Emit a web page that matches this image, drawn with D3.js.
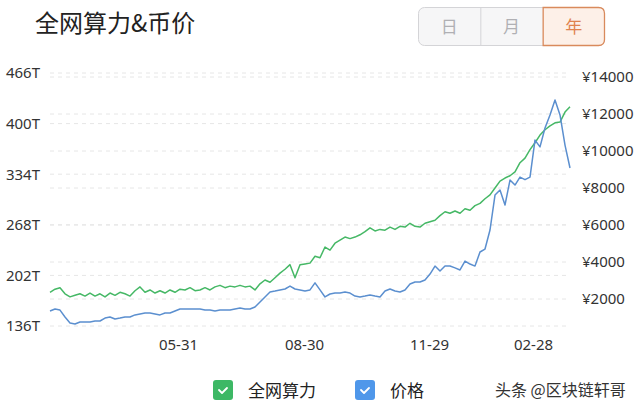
<!DOCTYPE html>
<html><head><meta charset="utf-8">
<script src="https://cdn.jsdelivr.net/npm/d3@7/dist/d3.min.js"></script>
<style>
html,body{margin:0;padding:0;background:#fff;}
svg{display:block;font-family:"Noto Sans CJK SC","Noto Sans",sans-serif;}
</style></head>
<body><svg id="c" width="640" height="412"></svg>
<script>
// ---- data ----
const title = "全网算力&币价";
const periodButtons = ["日", "月", "年"];
const activeButton = 2;
const seriesNames = ["全网算力", "价格"];
const watermark = "头条 @区块链轩哥";
// network hashrate (T), sampled evenly over the year
const hashrate = [180,184,186,178,174,176,178,175,179,175,
  178,174,179,176,180,178,175,182,187,180,
  183,179,182,179,183,180,184,183,186,182,
  183,186,183,187,189,186,188,187,189,187,
  188,183,191,196,193,199,205,210,216,199,
  216,217,218,227,225,239,235,244,248,252,
  250,252,255,259,264,260,262,261,265,262,
  266,265,270,266,265,270,272,274,280,285,
  283,286,283,289,287,293,296,302,307,316,
  325,329,332,337,349,355,366,375,385,392,
  397,401,402,415,422];
// price (CNY)
const price = [1350,1460,1400,1030,700,650,760,760,760,810,
  810,970,1030,920,970,1030,1030,1140,1190,1240,
  1240,1190,1140,1240,1240,1350,1460,1460,1460,1460,
  1460,1400,1400,1350,1400,1400,1400,1460,1510,1460,
  1460,1570,1840,2110,2380,2430,2490,2540,2700,2540,
  2490,2430,2490,2870,2490,2110,2270,2320,2320,2380,
  2320,2160,2110,2160,2220,2160,2110,2430,2540,2430,
  2380,2490,2810,2920,2920,3030,3350,3780,3510,3780,
  3780,3680,3570,4050,3890,3780,4540,4700,5730,7620,
  7890,7080,8430,8160,8590,8450,8590,10590,10220,11240,
  11950,12760,11950,10320,9080];
const xTickLabels = ["05-31", "08-30", "11-29", "02-28"];
const xTickIndex = [25.6, 50.8, 75.8, 96.6];
const leftTicks = [136, 202, 268, 334, 400, 466];
const rightTicks = [2000, 4000, 6000, 8000, 10000, 12000, 14000];

// ---- layout ----
const svg = d3.select("#c");
const plot = {left: 50, right: 570, top: 73, bottom: 326};
const green = "#46b866", blue = "#5b8fcf";

const x = d3.scaleLinear().domain([0, hashrate.length - 1]).range([plot.left, plot.right]);
const yL = d3.scaleLinear().domain([136, 466]).range([plot.bottom, plot.top]);
const yR = d3.scaleLinear().domain([0, 14000]).range([336, 77]);

// title
svg.append("text").attr("x", 35).attr("y", 32).attr("font-size", 24)
  .attr("fill", "#222").text(title);

// segmented buttons
const bx = d3.scaleBand().domain(d3.range(periodButtons.length)).range([418, 605]);
const by = 7.5, bh = 38, r = 6;
const bg = svg.append("g");
bg.append("rect").attr("x", 418.5).attr("y", by).attr("width", 186).attr("height", bh)
  .attr("rx", r).attr("fill", "#f6f6f7").attr("stroke", "#d4d4d7");
periodButtons.forEach((b, i) => {
  const act = i === activeButton;
  if (i > 0 && !act) {
    bg.append("line").attr("x1", bx(i) + 0.5).attr("x2", bx(i) + 0.5)
      .attr("y1", by).attr("y2", by + bh).attr("stroke", "#d4d4d7");
  }
  if (act) {
    const x0 = bx(i) + 0.5, x1 = bx(i) + bx.bandwidth() - 0.5;
    bg.append("path")
      .attr("d", `M${x0},${by} H${x1 - r} Q${x1},${by} ${x1},${by + r} V${by + bh - r} Q${x1},${by + bh} ${x1 - r},${by + bh} H${x0} Z`)
      .attr("fill", "#fdf0e8").attr("stroke", "#d98a5c").attr("stroke-width", 1.3);
  }
  bg.append("text").attr("x", bx(i) + bx.bandwidth() / 2).attr("y", 33)
    .attr("text-anchor", "middle").attr("font-size", 17)
    .attr("fill", act ? "#e0834f" : "#b0b0b4").text(b);
});

// grid
const grid = svg.append("g").attr("stroke", "#e6e6e6").attr("stroke-dasharray", "4,4");
leftTicks.forEach(t => grid.append("line").attr("x1", plot.left).attr("x2", plot.right - 2)
  .attr("y1", yL(t)).attr("y2", yL(t)));
rightTicks.forEach(t => grid.append("line").attr("x1", plot.left).attr("x2", plot.right - 2)
  .attr("y1", yR(t)).attr("y2", yR(t)));

// axes
const axL = svg.append("g").attr("transform", `translate(${plot.left - 7},0)`)
  .call(d3.axisLeft(yL).tickValues(leftTicks).tickSize(0).tickFormat(d => d + "T"));
const axR = svg.append("g").attr("transform", `translate(${plot.right + 9},0)`)
  .call(d3.axisRight(yR).tickValues(rightTicks).tickSize(0).tickFormat(d => "¥" + d));
const axX = svg.append("g").attr("transform", `translate(0,${plot.bottom + 10})`)
  .call(d3.axisBottom(x).tickValues(xTickIndex).tickSize(0).tickFormat((d, i) => xTickLabels[i]));
[axL, axR, axX].forEach(a => {
  a.select(".domain").remove();
  a.selectAll("text").attr("font-size", 15).attr("fill", "#333")
    .attr("font-family", "'Noto Sans','DejaVu Sans',sans-serif");
});
axL.selectAll("text").attr("dx", 0);
axR.selectAll("text").attr("dx", 0);

// lines
const lineL = d3.line().x((d, i) => x(i)).y(d => yL(d));
const lineR = d3.line().x((d, i) => x(i)).y(d => yR(d));
svg.append("path").datum(hashrate).attr("d", lineL).attr("fill", "none")
  .attr("stroke", green).attr("stroke-width", 1.5).attr("stroke-linejoin", "round");
svg.append("path").datum(price).attr("d", lineR).attr("fill", "none")
  .attr("stroke", blue).attr("stroke-width", 1.5).attr("stroke-linejoin", "round");

// legend
const legColors = ["#3db865", "#4f97ea"];
const legX = [213, 355];
const lg = svg.append("g");
seriesNames.forEach((n, i) => {
  lg.append("rect").attr("x", legX[i]).attr("y", 380).attr("width", 20).attr("height", 20)
    .attr("rx", 3).attr("fill", legColors[i]);
  lg.append("path").attr("d", `M${legX[i] + 6},${390} l3,3 l5,-5`).attr("fill", "none")
    .attr("stroke", "#fff").attr("stroke-width", 1.8).attr("stroke-linecap", "round")
    .attr("stroke-linejoin", "round");
  lg.append("text").attr("x", legX[i] + 35).attr("y", 397).attr("font-size", 17)
    .attr("fill", "#222").text(n);
});
svg.append("text").attr("x", 495).attr("y", 396).attr("font-size", 16)
  .attr("fill", "#333").text(watermark);
</script></body></html>
